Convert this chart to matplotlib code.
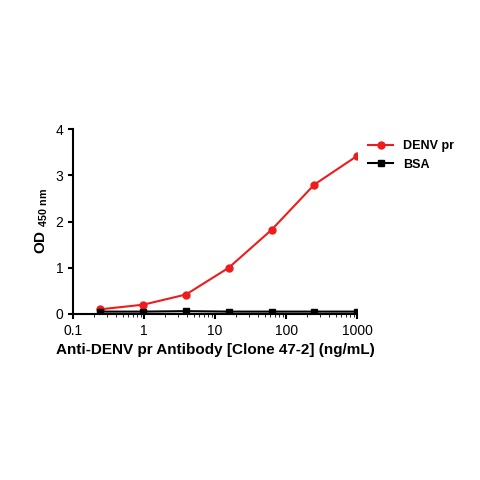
import matplotlib
matplotlib.use("Agg")
import matplotlib.pyplot as plt

plt.rcParams['font.family'] = ['Liberation Sans', 'DejaVu Sans']

conc = [0.244, 0.977, 3.9, 15.6, 62.5, 250, 1000]
denv = [0.10, 0.20, 0.42, 1.00, 1.82, 2.80, 3.42]
bsa = [0.05, 0.05, 0.06, 0.05, 0.05, 0.05, 0.05]

fig = plt.figure(figsize=(4.8, 4.8), dpi=100)
ax = fig.add_axes([0.152, 0.346, 0.592, 0.385])
ax.plot(conc, denv, color='#ee1c1c', marker='o', ms=5, lw=1.5, label='DENV pr')
ax.plot(conc, bsa, color='black', marker='s', ms=5, lw=1.5, label='BSA')
ax.set_xscale('log')
ax.set_xlim(0.1, 1000)
ax.set_ylim(0, 4)
ax.set_yticks([0, 1, 2, 3, 4])
ax.set_xticks([0.1, 1, 10, 100, 1000])
ax.set_xticklabels(['0.1', '1', '10', '100', '1000'])
for s in ['top', 'right']:
    ax.spines[s].set_visible(False)
for s in ['left', 'bottom']:
    ax.spines[s].set_linewidth(1.5)
ax.tick_params(width=1.5, labelsize=10)
ax.set_xlabel('Anti-DENV pr Antibody [Clone 47-2] (ng/mL)', fontsize=11, fontweight='bold')
ax.set_ylabel(r'OD $_{\mathregular{450\ nm}}$', fontsize=11, fontweight='bold')
leg = ax.legend(loc='upper left', bbox_to_anchor=(1.0, 1.0), frameon=False,
                fontsize=9, handlelength=2)
for t in leg.get_texts():
    t.set_fontweight('bold')
fig.savefig('out.png')
